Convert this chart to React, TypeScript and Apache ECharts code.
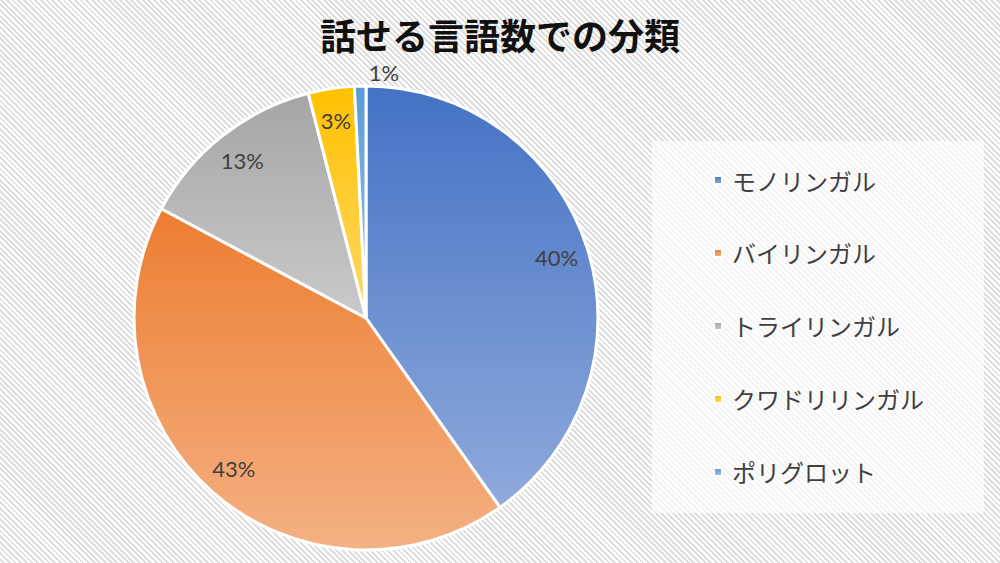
import React, { useEffect, useRef } from "react";
import * as echarts from "echarts";

const titleText = "話せる言語数での分類";
const categories = ["モノリンガル", "バイリンガル", "トライリンガル", "クワドリリンガル", "ポリグロット"];
const values = [40.2, 42.6, 13.2, 3.2, 0.8];
const topColors = ["#4472C4", "#ED7D31", "#A5A5A5", "#FFC000", "#5B9BD5"];
const bottomColors = ["#8FAADC", "#F4B183", "#CACACA", "#FFD966", "#9DC3E6"];

export default function App() {
  const ref = useRef<HTMLDivElement>(null);
  useEffect(() => {
    document.body.style.margin = "0";
    if (!ref.current) return;
    const chart = echarts.init(ref.current, null, { renderer: "svg" });
    const grad = (i: number) =>
      new echarts.graphic.LinearGradient(0, 0, 0, 1, [
        { offset: 0, color: topColors[i] },
        { offset: 1, color: bottomColors[i] },
      ]);
    const mainData = categories.map((name, i) => ({
      name,
      value: values[i],
      itemStyle: { color: grad(i) },
    }));
    const last = categories.length - 1;
    const labelData = categories.map((name, i) =>
      i === last
        ? {
            name,
            value: values[i],
            label: { position: "outside" },
            labelLine: { show: false, length: 14, length2: 0 },
          }
        : { name, value: values[i] }
    );
    chart.setOption({
      animation: false,
      backgroundColor: "transparent",
      title: {
        text: titleText,
        left: "center",
        top: 16,
        padding: 0,
        textStyle: {
          fontFamily: "Noto Sans CJK JP",
          fontSize: 36,
          fontWeight: "bold",
          color: "#111",
        },
      },
      legend: {
        orient: "vertical",
        left: 652,
        top: 141,
        padding: [27, 60, 29, 61],
        itemGap: 49,
        itemWidth: 8,
        itemHeight: 8,
        icon: "rect",
        backgroundColor: "rgba(255,255,255,0.65)",
        data: categories,
        textStyle: {
          fontFamily: "Noto Sans CJK JP",
          fontSize: 24,
          color: "#404040",
          padding: [0, 0, 0, 5],
        },
      },
      series: [
        {
          type: "pie",
          name: "main",
          center: [366, 318],
          radius: [0, 232],
          startAngle: 90,
          clockwise: true,
          label: { show: false },
          labelLine: { show: false },
          itemStyle: { borderColor: "#ffffff", borderWidth: 3 },
          emphasis: { disabled: true },
          data: mainData,
        },
        {
          type: "pie",
          name: "labels",
          center: [366, 318],
          radius: [162, 232],
          startAngle: 90,
          clockwise: true,
          silent: true,
          avoidLabelOverlap: false,
          itemStyle: { color: "transparent", borderWidth: 0 },
          label: {
            show: true,
            position: "inside",
            formatter: (p: any) => Math.round(p.percent) + "%",
            fontFamily: "Lato",
            fontSize: 22,
            color: "#404040",
          },
          labelLine: { show: false },
          labelLayout: (params: any) =>
            params.dataIndex === last ? { dx: params.labelRect.width + 14 } : {},
          emphasis: { disabled: true },
          data: labelData,
        },
      ],
    });
    return () => chart.dispose();
  }, []);
  return (
    <div
      ref={ref}
      style={{
        width: 1000,
        height: 563,
        background:
          "repeating-linear-gradient(45deg, #ffffff 0px, #ffffff 2px, #dedede 2px, #dedede 4px)",
      }}
    />
  );
}
